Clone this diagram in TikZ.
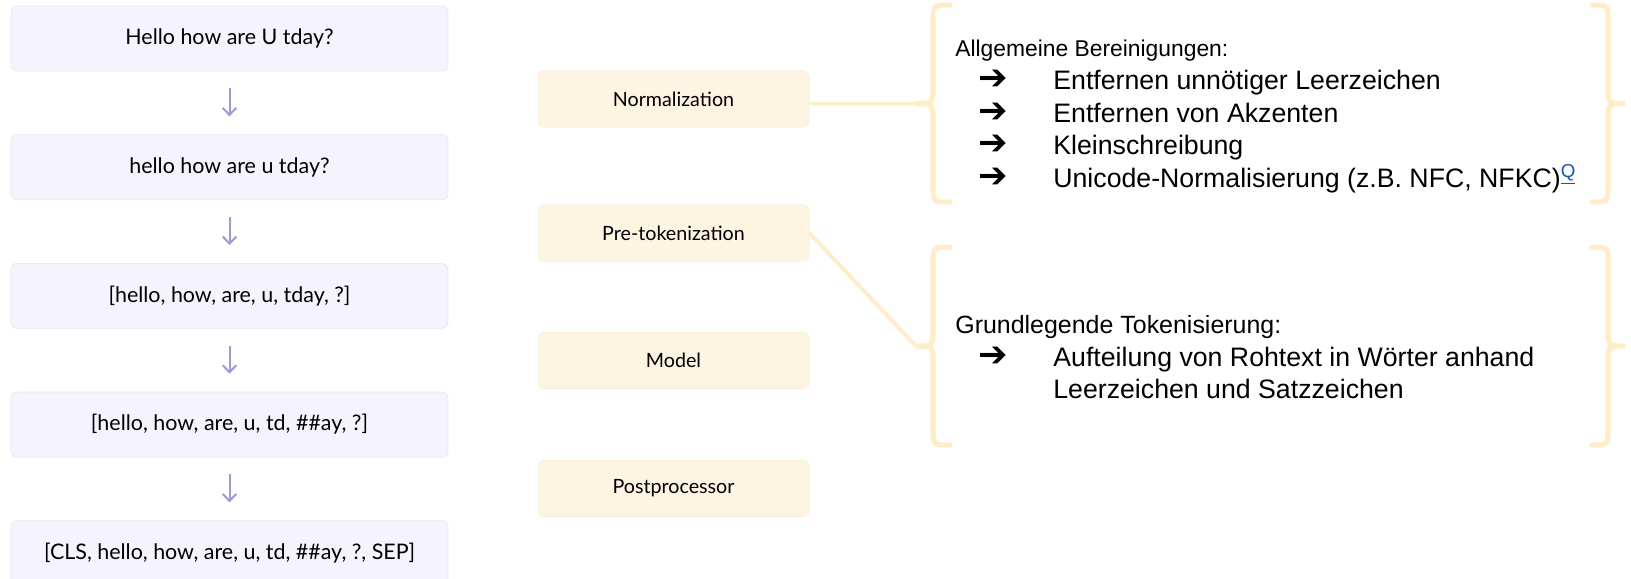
\documentclass[tikz,border=0pt]{standalone}
\usepackage{fontspec}
\setmainfont{Lato}
\newfontfamily\arialfont{Liberation Sans}
\newfontfamily\symbolfont{DejaVu Sans}
\usetikzlibrary{arrows.meta,positioning}

\definecolor{lavfill}{RGB}{245,243,254}
\definecolor{lavline}{RGB}{233,230,250}
\definecolor{lavarrow}{RGB}{163,148,228}
\definecolor{creamfill}{RGB}{253,244,226}
\definecolor{creamline}{RGB}{250,238,214}
\definecolor{bracecol}{RGB}{255,237,198}
\definecolor{qblue}{RGB}{17,85,204}

% curly bracket: #1=spine x, #2=tip x, #3=end x, #4=top y, #5=bottom y
\newcommand{\drawcurly}[5]{%
  \draw[curly] (#3,#4) .. controls (#1,#4) .. (#1,#4+17)
    -- (#1,{(#4+#5)/2-17}) .. controls (#1,{(#4+#5)/2}) .. (#2,{(#4+#5)/2})
    .. controls (#1,{(#4+#5)/2}) .. (#1,{(#4+#5)/2+17})
    -- (#1,#5-17) .. controls (#1,#5) .. (#3,#5);}
% bullet line in the notes
\newcommand{\arrowitem}{\hspace*{0.46cm}\makebox[1.5cm][l]{\smash{\symbolfont\bfseries\fontsize{20}{18.6}\selectfont ➔}}}

\begin{document}
\begin{tikzpicture}[x=0.02cm,y=-0.02cm,
  tokbox/.style={draw=lavline,fill=lavfill,rounded corners=0.12cm,line width=0.4pt,
    minimum width=8.74cm,minimum height=1.3cm,inner sep=0pt,
    font=\fontsize{12.2}{14}\selectfont},
  stagebox/.style={draw=creamline,fill=creamfill,rounded corners=0.12cm,line width=0.4pt,
    minimum width=5.42cm,minimum height=1.12cm,inner sep=0pt,
    font=\fontsize{11.2}{13}\selectfont},
  flow/.style={draw=lavarrow,line width=0.04cm,
    -{Straight Barb[length=0.14cm,width=0.27cm]},shorten <=0.34cm,shorten >=0.36cm},
  link/.style={draw=bracecol,line width=0.075cm},
  curly/.style={draw=bracecol,line width=0.1cm,line cap=round},
  note/.style={font=\arialfont\fontsize{15.2}{18.6}\selectfont,align=left,
    inner sep=0pt,anchor=north west},
  node distance=1.26cm]
\useasboundingbox[fill=white] (0,0) rectangle (1631,578);
% ---------- token column ----------
\node[tokbox] (raw) at (229.5,38.5) {Hello how are U tday?};
\node[tokbox,below=of raw] (normed) {hello how are u tday?};
\node[tokbox,below=of normed] (pretoks) {[hello, how, are, u, tday, ?]};
\node[tokbox,below=of pretoks] (modeltoks) {[hello, how, are, u, td, \#\#ay, ?]};
\node[tokbox,below=of modeltoks] (final) {[CLS, hello, how, are, u, td, \#\#ay, ?, SEP]};
\draw[flow] (raw) -- (normed);
\draw[flow] (normed) -- (pretoks);
\draw[flow] (pretoks) -- (modeltoks);
\draw[flow] (modeltoks) -- (final);
% ---------- pipeline stages ----------
\node[stagebox] (norm) at (673.5,99) {Normalization};
\node[stagebox] (pretok) at (673.5,233) {Pre-tokenization};
\node[stagebox] (model) at (673.5,360.5) {Model};
\node[stagebox] (post) at (673.5,488.5) {Postprocessor};
% ---------- brackets ----------
\drawcurly{933}{915}{950}{5}{202}
\drawcurly{1608}{1625}{1592}{5}{202}
\drawcurly{933}{916}{950}{247}{445}
\drawcurly{1608}{1625}{1592}{247}{445}
\coordinate (normtip) at (915,103.5);
\coordinate (pretip) at (916,346);
\draw[link] (norm.east |- normtip) -- (normtip);
\draw[link] (pretok.east) -- (pretip);
% ---------- notes ----------
\node[note] (cleanup) at (955,40) {{\fontsize{13}{18.6}\selectfont Allgemeine Bereinigungen:}\\
  \arrowitem Entfernen unnötiger Leerzeichen\\
  \arrowitem Entfernen von Akzenten\\
  \arrowitem Kleinschreibung\\
  \arrowitem Unicode-Normalisierung (z.B. NFC, NFKC)\textsuperscript{\color{qblue}\underline{Q}}};
\node[note] (splitting) at (955,315) {{\fontsize{14.2}{18.6}\selectfont Grundlegende Tokenisierung:}\\
  \arrowitem Aufteilung von Rohtext in Wörter anhand\\
  \hspace*{1.96cm}Leerzeichen und Satzzeichen};
\end{tikzpicture}
\end{document}
